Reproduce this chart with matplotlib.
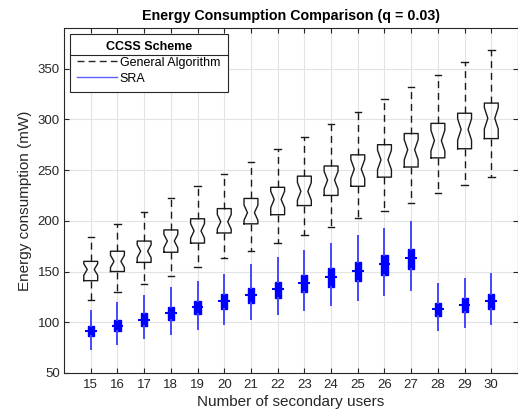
import numpy as np
import matplotlib.pyplot as plt
from matplotlib.lines import Line2D

plt.rcParams['font.family'] = ['Liberation Sans', 'DejaVu Sans']

users = list(range(15, 31))

# General Algorithm (black, notched)
ga_low = [122, 130, 138, 146, 154, 163, 170, 178, 186, 194, 203, 210, 218, 227, 235, 243]
ga_q1 = [141, 150, 159, 169, 178, 188, 197, 206, 215, 225, 234, 243, 253, 262, 271, 281]
ga_med = [152, 160, 170, 180, 190, 199, 208, 221, 229, 240, 251, 260, 270, 279, 290, 301]
ga_q3 = [160, 170, 180, 191, 202, 212, 222, 233, 244, 254, 265, 275, 286, 296, 306, 316]
ga_high = [184, 197, 209, 222, 234, 246, 258, 271, 283, 295, 307, 320, 332, 344, 356, 368]

# SRA (blue, compact)
sra_low = [74, 79, 84, 88, 93, 98, 103, 108, 112, 117, 122, 127, 132, 92, 95, 98]
sra_q1 = [86, 91, 96, 102, 108, 113, 119, 124, 130, 135, 141, 147, 152, 106, 110, 113]
sra_med = [91, 96, 102, 109, 115, 121, 127, 133, 139, 145, 151, 157, 163, 113, 117, 121]
sra_q3 = [96, 102, 109, 115, 121, 128, 134, 140, 147, 153, 159, 166, 172, 119, 124, 128]
sra_high = [111, 119, 126, 134, 140, 147, 156, 163, 170, 177, 185, 192, 199, 138, 143, 148]

NOTCH_FRAC = 0.3


def make_stats(low, q1, med, q3, high, notch=0.0):
    stats = []
    for lo, a, m, b, hi in zip(low, q1, med, q3, high):
        stats.append(dict(whislo=lo, q1=a, med=m, q3=b, whishi=hi,
                          cilo=m - notch * (b - a), cihi=m + notch * (b - a),
                          fliers=[]))
    return stats


fig = plt.figure(figsize=(5.18, 4.16), dpi=100)
ax = fig.add_axes([0.1236, 0.1034, 0.8764, 0.8293])

ax.grid(True, color='#e3e3e3', linewidth=0.8, zorder=0)
ax.set_axisbelow(True)

ga_stats = make_stats(ga_low, ga_q1, ga_med, ga_q3, ga_high, NOTCH_FRAC)
ax.bxp(ga_stats, positions=users, widths=0.52, shownotches=True, showfliers=False,
       capwidths=0.24, manage_ticks=False,
       boxprops=dict(color='#1a1a1a', linewidth=1.0),
       whiskerprops=dict(color='#1a1a1a', linewidth=1.0, linestyle=(0, (5, 3.5))),
       capprops=dict(color='#1a1a1a', linewidth=1.0),
       medianprops=dict(color='none'))

sra_stats = make_stats(sra_low, sra_q1, sra_med, sra_q3, sra_high)
ax.bxp(sra_stats, positions=users, widths=0.23, patch_artist=True,
       showfliers=False, showcaps=False, manage_ticks=False,
       boxprops=dict(facecolor='#0000ff', edgecolor='#0000ff', linewidth=1.0),
       whiskerprops=dict(color='#4646ff', linewidth=1.4),
       medianprops=dict(color='none'))
ax.hlines(sra_med, np.array(users) - 0.22, np.array(users) + 0.22,
          colors='#0000ff', linewidth=1.5, zorder=4)

ax.set_xlim(14, 31)
ax.set_ylim(50, 390)
ax.set_xticks(users)
ax.set_yticks([50, 100, 150, 200, 250, 300, 350])
ax.tick_params(direction='in', length=3.5, width=0.8, top=True, right=True,
               labelsize=9.5, labelcolor='#262626', color='#262626')
ax.tick_params(axis='x', pad=4.5)
ax.tick_params(axis='y', pad=3)
for s in ax.spines.values():
    s.set_color('#262626')
    s.set_linewidth(0.8)

ax.set_xlabel('Number of secondary users', fontsize=11, color='#262626', labelpad=3)
ax.set_ylabel('Energy consumption (mW)', fontsize=11, color='#262626', labelpad=4)
ax.set_title('Energy Consumption Comparison (q = 0.03)', fontsize=10.3,
             fontweight='bold', pad=6)

handles = [Line2D([], [], color='#262626', linestyle=(0, (5, 3)), linewidth=1.0),
           Line2D([], [], color='#6060ff', linewidth=1.0)]
leg = ax.legend(handles, ['General Algorithm', 'SRA'], loc='upper left',
                title='CCSS Scheme', fontsize=9, fancybox=False, framealpha=1,
                edgecolor='#262626', borderaxespad=0.45, handlelength=3.2,
                handletextpad=0.2, borderpad=0.6, labelspacing=0.3)
leg.get_title().set_fontweight('bold')
leg.get_title().set_fontsize(9)
leg.get_frame().set_linewidth(0.8)

fig.canvas.draw()
fb = leg.get_frame().get_window_extent()
tb = leg.get_title().get_window_extent()
eb = leg.get_texts()[0].get_window_extent()
inv = fig.transFigure.inverted()
x0, _ = inv.transform((fb.x0, 0))
x1, _ = inv.transform((fb.x1, 0))
_, ysep = inv.transform((0, 0.5 * (tb.y0 + eb.y1)))
fig.add_artist(Line2D([x0, x1], [ysep, ysep], transform=fig.transFigure,
                      color='#262626', linewidth=0.8))

fig.savefig('out.png', dpi=100)
